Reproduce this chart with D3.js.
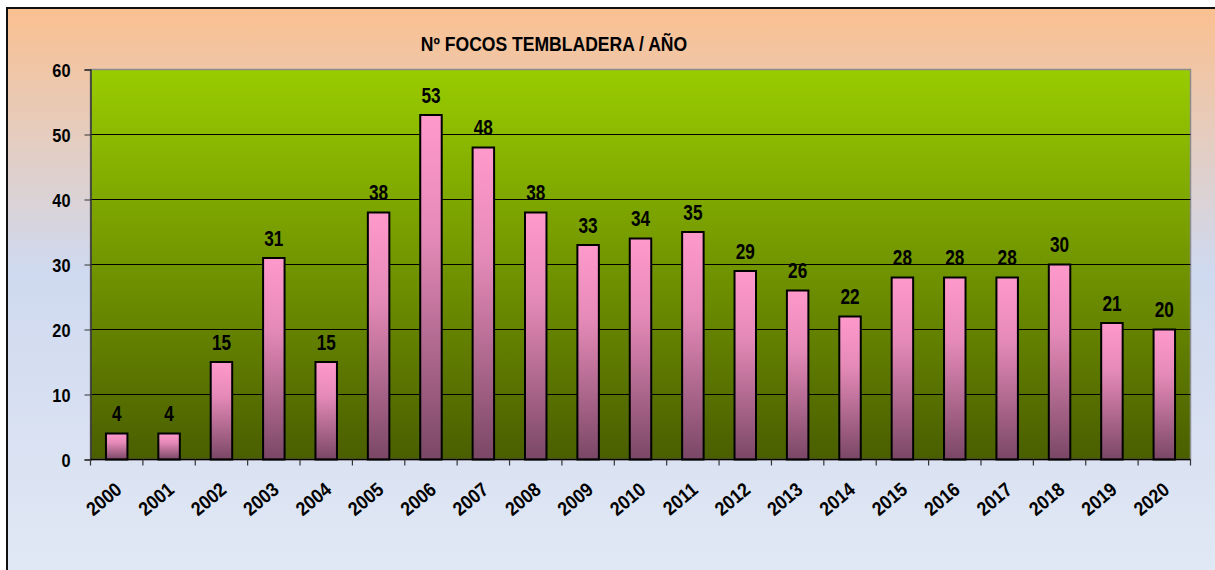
<!DOCTYPE html>
<html>
<head>
<meta charset="utf-8">
<script src="https://cdn.jsdelivr.net/npm/d3@7"></script>
<style>
  body { margin: 0; background: #fff; }
  svg text { font-family: "Liberation Sans Narrow", "Arial Narrow", "Liberation Sans", Arial, sans-serif; font-weight: bold; fill: #000; }
</style>
</head>
<body>
<div id="chart"></div>
<script>
// datos del grafico
var years = ["2000","2001","2002","2003","2004","2005","2006","2007","2008","2009","2010",
             "2011","2012","2013","2014","2015","2016","2017","2018","2019","2020"];
var focos = [4, 4, 15, 31, 15, 38, 53, 48, 38, 33, 34, 35, 29, 26, 22, 28, 28, 28, 30, 21, 20];
var yTicks = [0, 10, 20, 30, 40, 50, 60];
var titulo = "Nº FOCOS TEMBLADERA / AÑO";

var width = 1215, height = 570;
var margin = {left: 90.5, right: 24.5, top: 69.5, bottom: 110.5};

var svg = d3.select("#chart").append("svg")
    .attr("width", width)
    .attr("height", height);

var defs = svg.append("defs");

// fondo exterior
var gFondo = defs.append("linearGradient").attr("id", "fondo")
    .attr("x1", 0).attr("y1", 0).attr("x2", 0).attr("y2", 1);
gFondo.append("stop").attr("offset", "0%").attr("stop-color", "#fac090");
gFondo.append("stop").attr("offset", "45%").attr("stop-color", "#cfd9ef");
gFondo.append("stop").attr("offset", "100%").attr("stop-color", "#e2e9f5");

// fondo del area de trazado
var gPlot = defs.append("linearGradient").attr("id", "plotbg")
    .attr("x1", 0).attr("y1", 0).attr("x2", 0).attr("y2", 1);
gPlot.append("stop").attr("offset", "0%").attr("stop-color", "#99cc00");
gPlot.append("stop").attr("offset", "100%").attr("stop-color", "#4a5e00");

// barras
var gBarra = defs.append("linearGradient").attr("id", "barra")
    .attr("x1", 0).attr("y1", 0).attr("x2", 0).attr("y2", 1);
gBarra.append("stop").attr("offset", "0%").attr("stop-color", "#ff99cc");
gBarra.append("stop").attr("offset", "35%").attr("stop-color", "#e58ab8");
gBarra.append("stop").attr("offset", "100%").attr("stop-color", "#7a4766");

svg.append("rect")
    .attr("x", 7).attr("y", 8)
    .attr("width", width + 10).attr("height", height + 10)
    .attr("fill", "url(#fondo)")
    .attr("stroke", "#111")
    .attr("stroke-width", 2);

var x = d3.scaleBand()
    .domain(years)
    .range([margin.left, width - margin.right])
    .paddingInner(0.59)
    .paddingOuter(0.295);

var xEdge = d3.scaleLinear()
    .domain([0, years.length])
    .range([margin.left, width - margin.right]);

var y = d3.scaleLinear()
    .domain([0, 60])
    .range([height - margin.bottom, margin.top]);

svg.append("rect")
    .attr("x", margin.left).attr("y", margin.top)
    .attr("width", width - margin.right - margin.left)
    .attr("height", y(0) - margin.top)
    .attr("fill", "url(#plotbg)")
    .attr("stroke", "#8c8c8c")
    .attr("stroke-width", 1.5);

// lineas de division
svg.append("g").selectAll("line")
    .data(yTicks.filter(function(d) { return d > 0 && d < 60; }))
    .enter().append("line")
    .attr("x1", margin.left).attr("x2", width - margin.right)
    .attr("y1", function(d) { return y(d); })
    .attr("y2", function(d) { return y(d); })
    .attr("stroke", "#000")
    .attr("stroke-width", 1);

// eje y
var yAxis = svg.append("g")
    .attr("transform", "translate(" + margin.left + ",0)")
    .call(d3.axisLeft(y).tickValues(yTicks).tickSize(6).tickPadding(0));
yAxis.select(".domain").attr("stroke", "#333").attr("stroke-width", 1.5);
yAxis.selectAll(".tick line").attr("stroke", "#333");
yAxis.selectAll(".tick text")
    .attr("x", null)
    .attr("dy", null)
    .attr("transform", "translate(-20,6.5) scale(0.86,1)")
    .style("font-size", "19px");

// barras
svg.append("g").selectAll("rect")
    .data(focos)
    .enter().append("rect")
    .attr("x", function(d, i) { return x(years[i]); })
    .attr("y", function(d) { return y(d); })
    .attr("width", x.bandwidth())
    .attr("height", function(d) { return y(0) - y(d); })
    .attr("fill", "url(#barra)")
    .attr("stroke", "#000")
    .attr("stroke-width", 2);

// etiquetas de valor
svg.append("g").selectAll("text")
    .data(focos)
    .enter().append("text")
    .attr("transform", function(d, i) {
        return "translate(" + (x(years[i]) + x.bandwidth() / 2) + "," + (y(d) - 12.5) + ") scale(0.8,1)";
    })
    .attr("text-anchor", "middle")
    .style("font-size", "21.5px")
    .text(function(d) { return d; });

// eje x
svg.append("line")
    .attr("x1", margin.left).attr("x2", width - margin.right)
    .attr("y1", y(0)).attr("y2", y(0))
    .attr("stroke", "#000").attr("stroke-width", 1.5);

svg.append("g").selectAll("line")
    .data(d3.range(years.length + 1))
    .enter().append("line")
    .attr("x1", function(d) { return xEdge(d); })
    .attr("x2", function(d) { return xEdge(d); })
    .attr("y1", y(0)).attr("y2", y(0) + 6)
    .attr("stroke", "#333").attr("stroke-width", 1.2);

svg.append("g").selectAll("text")
    .data(years)
    .enter().append("text")
    .attr("transform", function(d) {
        return "translate(" + (x(d) + x.bandwidth() / 2 + 2) + "," + (y(0) + 27) + ") rotate(-40) scale(0.9,1)";
    })
    .attr("text-anchor", "end")
    .attr("dy", "0.35em")
    .style("font-size", "19.5px")
    .text(function(d) { return d; });

// titulo
svg.append("text")
    .attr("transform", "translate(554,51) scale(0.9,1)")
    .attr("text-anchor", "middle")
    .style("font-size", "19.5px")
    .text(titulo);
</script>
</body>
</html>
